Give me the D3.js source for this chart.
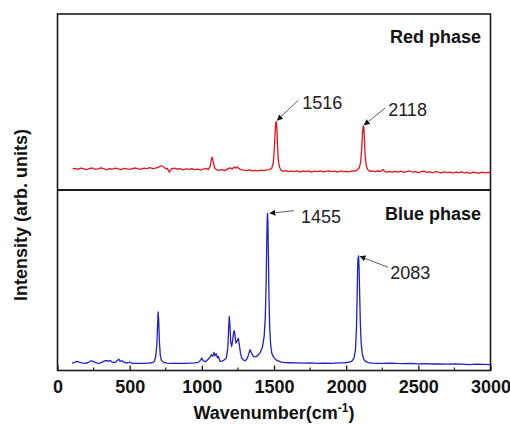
<!DOCTYPE html>
<html>
<head>
<meta charset="utf-8">
<script src="https://cdn.jsdelivr.net/npm/d3@7"></script>
<style>
  body { margin: 0; background: #fff; }
  svg { display: block; font-family: Arial, "Liberation Sans", sans-serif; }
</style>
</head>
<body>
<svg width="510" height="425"></svg>
<script>
// x axis ticks (wavenumber, cm^-1)
var xTicks = [0, 500, 1000, 1500, 2000, 2500, 3000];
var xMinorTicks = [250, 750, 1250, 1750, 2250, 2750];

// red phase spectrum: [wavenumber, intensity (arb.)]
var redSpectrum = [
  [105, 12.0], [120, 12.3], [140, 11.7], [160, 12.4], [180, 12.1], [200, 11.6], [220, 12.2],
  [240, 12.5], [260, 11.8], [280, 12.0], [300, 12.6], [320, 12.1], [340, 11.5], [360, 12.2],
  [380, 11.9], [400, 12.4], [420, 12.0], [440, 11.6], [460, 12.3], [480, 12.0], [500, 11.7],
  [520, 12.2], [540, 12.5], [560, 12.0], [580, 11.8], [600, 12.4], [620, 12.1], [640, 12.7],
  [660, 12.2], [680, 12.4], [700, 13.0], [720, 13.8], [735, 13.2], [750, 12.0], [760, 12.3],
  [775, 10.2], [790, 12.0], [810, 12.4], [830, 11.8], [850, 12.1], [870, 11.5], [890, 12.0],
  [910, 11.7], [930, 12.2], [950, 11.6], [970, 11.9], [990, 11.4], [1010, 11.8], [1030, 12.3],
  [1045, 11.6], [1058, 13.5], [1066, 17.5], [1072, 18.6], [1080, 15.5], [1090, 12.2],
  [1105, 11.5], [1120, 11.2], [1140, 11.6], [1160, 11.0], [1180, 12.0], [1195, 12.6],
  [1210, 12.0], [1225, 13.0], [1235, 12.4], [1245, 13.2], [1255, 12.3], [1270, 11.6],
  [1290, 11.3], [1310, 11.0], [1330, 11.4], [1350, 10.9], [1370, 11.2], [1390, 10.8],
  [1410, 11.3], [1430, 11.0], [1450, 11.4], [1470, 11.6], [1485, 12.5], [1495, 15.5],
  [1503, 24.0], [1508, 33.0], [1512, 38.2], [1516, 38.8], [1520, 35.0], [1524, 26.0],
  [1530, 17.0], [1538, 13.0], [1548, 11.4], [1560, 10.6], [1580, 11.0], [1600, 10.5],
  [1620, 10.9], [1640, 10.4], [1660, 10.8], [1680, 10.3], [1700, 10.7], [1720, 10.5],
  [1740, 10.9], [1760, 10.2], [1780, 10.7], [1800, 10.4], [1820, 10.8], [1840, 10.3],
  [1860, 10.6], [1880, 10.9], [1900, 10.4], [1920, 10.7], [1940, 10.2], [1960, 10.8],
  [1980, 10.4], [2000, 10.6], [2020, 10.3], [2040, 10.9], [2060, 10.7], [2075, 11.3],
  [2090, 12.5], [2100, 15.5], [2108, 24.0], [2113, 32.0], [2118, 36.4], [2122, 35.8],
  [2127, 28.0], [2132, 19.0], [2140, 13.5], [2150, 11.5], [2165, 10.6], [2180, 10.9],
  [2200, 10.5], [2220, 10.8], [2240, 10.6], [2255, 11.6], [2265, 10.8], [2280, 10.2],
  [2300, 10.5], [2320, 10.1], [2340, 10.6], [2360, 10.2], [2380, 10.7], [2400, 10.0],
  [2420, 10.4], [2440, 10.8], [2460, 10.1], [2480, 10.5], [2500, 9.9], [2520, 10.4],
  [2540, 10.7], [2560, 10.0], [2580, 10.3], [2600, 9.8], [2620, 10.4], [2640, 10.1],
  [2660, 9.7], [2680, 10.3], [2700, 9.9], [2720, 10.2], [2740, 9.6], [2760, 10.1],
  [2780, 9.8], [2800, 10.3], [2820, 9.7], [2840, 10.0], [2860, 9.5], [2880, 10.1],
  [2900, 9.8], [2920, 9.6], [2940, 10.2], [2960, 9.7], [2980, 10.0], [3000, 9.9]
];

// blue phase spectrum: [wavenumber, intensity (arb.)]
var blueSpectrum = [
  [101, 4.1], [115, 4.4], [134, 5.0], [150, 4.6], [170, 4.2], [190, 4.0], [210, 4.3],
  [225, 5.0], [238, 5.4], [252, 4.8], [270, 4.2], [290, 4.0], [310, 4.6], [325, 5.3],
  [342, 5.5], [355, 5.1], [365, 5.6], [380, 4.6], [400, 4.4], [415, 5.6], [424, 6.3],
  [435, 5.0], [448, 5.4], [458, 4.6], [475, 4.2], [490, 4.3], [503, 4.7], [515, 4.0],
  [540, 3.9], [570, 4.0], [600, 3.9], [630, 4.1], [655, 4.3], [670, 5.0], [680, 7.5],
  [688, 14.0], [693, 24.0], [697, 32.5], [701, 28.0], [706, 16.0], [712, 8.5], [720, 5.6],
  [735, 4.5], [760, 4.1], [800, 4.0], [840, 3.9], [880, 4.0], [920, 4.1], [950, 4.2],
  [975, 4.5], [990, 5.6], [1000, 6.9], [1010, 5.3], [1025, 4.9], [1040, 6.0], [1055, 7.2],
  [1065, 8.7], [1075, 7.8], [1085, 10.0], [1092, 8.2], [1100, 9.3], [1108, 7.0], [1115, 7.8],
  [1126, 5.0], [1140, 5.2], [1155, 5.8], [1170, 7.0], [1180, 12.5], [1186, 24.0],
  [1190, 29.9], [1195, 25.0], [1200, 16.0], [1207, 13.3], [1214, 17.0], [1220, 21.0],
  [1225, 22.1], [1230, 19.0], [1237, 15.2], [1245, 16.5], [1253, 17.9], [1260, 14.0],
  [1268, 9.5], [1276, 6.9], [1288, 5.8], [1299, 5.4], [1312, 6.3], [1322, 8.5], [1334, 11.5],
  [1345, 9.5], [1358, 7.6], [1375, 7.7], [1390, 8.5], [1405, 10.0], [1420, 13.0],
  [1432, 19.0], [1440, 30.0], [1446, 50.0], [1450, 72.0], [1453, 84.0], [1455, 87.1],
  [1458, 82.0], [1461, 65.0], [1465, 42.0], [1470, 24.0], [1477, 14.0], [1485, 9.5],
  [1500, 7.0], [1520, 5.6], [1545, 4.8], [1575, 4.4], [1610, 4.3], [1650, 4.2], [1700, 4.1],
  [1750, 4.2], [1800, 4.0], [1850, 4.1], [1900, 4.0], [1950, 4.2], [1990, 4.3], [2020, 4.6],
  [2040, 5.2], [2055, 7.0], [2065, 12.0], [2072, 25.0], [2077, 45.0], [2080, 58.0],
  [2082, 62.5], [2084, 60.5], [2086, 63.5], [2089, 58.0], [2093, 44.0], [2098, 27.0],
  [2104, 15.0], [2112, 9.0], [2122, 6.2], [2135, 5.0], [2155, 4.4], [2180, 4.1], [2220, 4.0],
  [2260, 3.9], [2300, 4.1], [2350, 3.9], [2400, 3.8], [2450, 3.9], [2500, 3.7], [2550, 3.8],
  [2600, 3.6], [2650, 3.7], [2700, 3.5], [2750, 3.6], [2800, 3.5], [2850, 3.3], [2900, 3.5],
  [2950, 3.4], [3000, 3.3]
];

// labelled peaks: [wavenumber, intensity at the peak]
var redPeaks = [[1516, 38.8], [2118, 36.4]];
var bluePeaks = [[1455, 87.1], [2083, 63.5]];

var RED = '#e3141c';
var BLUE = '#2020c8';
var FRAME = '#1a1a1a';

// plot box (window.top is read-only, so no bare "top" here)
var plotLeft = 57.5, plotRight = 490.5, plotTop = 14, plotMid = 190, plotBottom = 370.5;

var svg = d3.select('svg');

var x = d3.scaleLinear().domain([0, 3000]).range([plotLeft, plotRight]);
var yRed = d3.scaleLinear().domain([0, 100]).range([plotMid, plotTop]);
var yBlue = d3.scaleLinear().domain([0, 100]).range([plotBottom, plotMid]);

svg.append('defs').append('marker')
    .attr('id', 'arrow')
    .attr('viewBox', '0 0 10 10')
    .attr('refX', 9).attr('refY', 5)
    .attr('markerWidth', 6).attr('markerHeight', 6)
    .attr('markerUnits', 'userSpaceOnUse')
    .attr('orient', 'auto')
    .append('path')
    .attr('d', 'M0,0L10,5L0,10Z')
    .attr('fill', '#111');

/**
 * Draw one spectrum with its phase title and peak annotations.
 */
function drawPanel(data, y, color, title, titleY, peaks, offsets) {
    var line = d3.line()
        .x(function (d) { return x(d[0]); })
        .y(function (d) { return y(d[1]); });

    svg.append('path')
        .datum(data)
        .attr('d', line)
        .attr('fill', 'none')
        .attr('stroke', color)
        .attr('stroke-width', 1.3)
        .attr('stroke-linejoin', 'round');

    svg.append('text')
        .attr('x', 481).attr('y', titleY)
        .attr('text-anchor', 'end')
        .attr('font-size', 18)
        .attr('font-weight', 'bold')
        .attr('fill', '#111')
        .text(title);

    peaks.forEach(function (p, i) {
        var o = offsets[i];
        var px = x(p[0]) + o.tip[0], py = y(p[1]) + o.tip[1];
        svg.append('line')
            .attr('x1', px + o.tail[0]).attr('y1', py + o.tail[1])
            .attr('x2', px).attr('y2', py)
            .attr('stroke', '#333')
            .attr('stroke-width', 0.8)
            .attr('marker-end', 'url(#arrow)');
        svg.append('text')
            .attr('x', px + o.text[0]).attr('y', py + o.text[1])
            .attr('font-size', 18)
            .attr('fill', '#222')
            .text(p[0]);
    });
}

drawPanel(redSpectrum, yRed, RED, 'Red phase', 43, redPeaks, [
    { tip: [1, -1.5], tail: [21, -20], text: [25, -11] },
    { tip: [1, -1], tail: [21, -17], text: [24, -8.5] }
]);
drawPanel(blueSpectrum, yBlue, BLUE, 'Blue phase', 219.5, bluePeaks, [
    { tip: [2.5, 0], tail: [24, -2.6], text: [31, 10] },
    { tip: [2, 0.5], tail: [28, 11], text: [30, 22.5] }
]);

// frame and panel divider
svg.append('rect')
    .attr('x', plotLeft).attr('y', plotTop)
    .attr('width', plotRight - plotLeft).attr('height', plotBottom - plotTop)
    .attr('fill', 'none')
    .attr('stroke', FRAME)
    .attr('stroke-width', 1.6);
svg.append('line')
    .attr('x1', plotLeft).attr('x2', plotRight)
    .attr('y1', plotMid).attr('y2', plotMid)
    .attr('stroke', FRAME)
    .attr('stroke-width', 2);

// bottom axis with inward ticks
var axis = d3.axisBottom(x).tickValues(xTicks).tickFormat(d3.format('d'))
    .tickSizeInner(-5).tickSizeOuter(0).tickPadding(10);
var gx = svg.append('g').attr('transform', 'translate(0,' + plotBottom + ')').call(axis);
gx.select('.domain').remove();
gx.selectAll('.tick line').attr('stroke', FRAME).attr('stroke-width', 1.3);
gx.selectAll('.tick text')
    .attr('font-size', 18)
    .attr('font-weight', 'bold')
    .attr('fill', '#111')
    .attr('font-family', 'Arial, "Liberation Sans", sans-serif');

svg.append('g').selectAll('line')
    .data(xMinorTicks)
    .enter().append('line')
    .attr('x1', function (d) { return x(d); })
    .attr('x2', function (d) { return x(d); })
    .attr('y1', plotBottom).attr('y2', plotBottom - 3)
    .attr('stroke', FRAME)
    .attr('stroke-width', 1.2);

// axis titles
var xTitle = svg.append('text')
    .attr('x', (plotLeft + plotRight) / 2).attr('y', 419)
    .attr('text-anchor', 'middle')
    .attr('font-size', 18)
    .attr('font-weight', 'bold')
    .attr('fill', '#111');
xTitle.append('tspan').text('Wavenumber(cm');
xTitle.append('tspan').attr('font-size', 12).attr('dy', -7).text('-1');
xTitle.append('tspan').attr('dy', 7).text(')');

svg.append('text')
    .attr('transform', 'translate(27,215) rotate(-90)')
    .attr('text-anchor', 'middle')
    .attr('font-size', 18)
    .attr('font-weight', 'bold')
    .attr('fill', '#111')
    .text('Intensity (arb. units)');
</script>
</body>
</html>
